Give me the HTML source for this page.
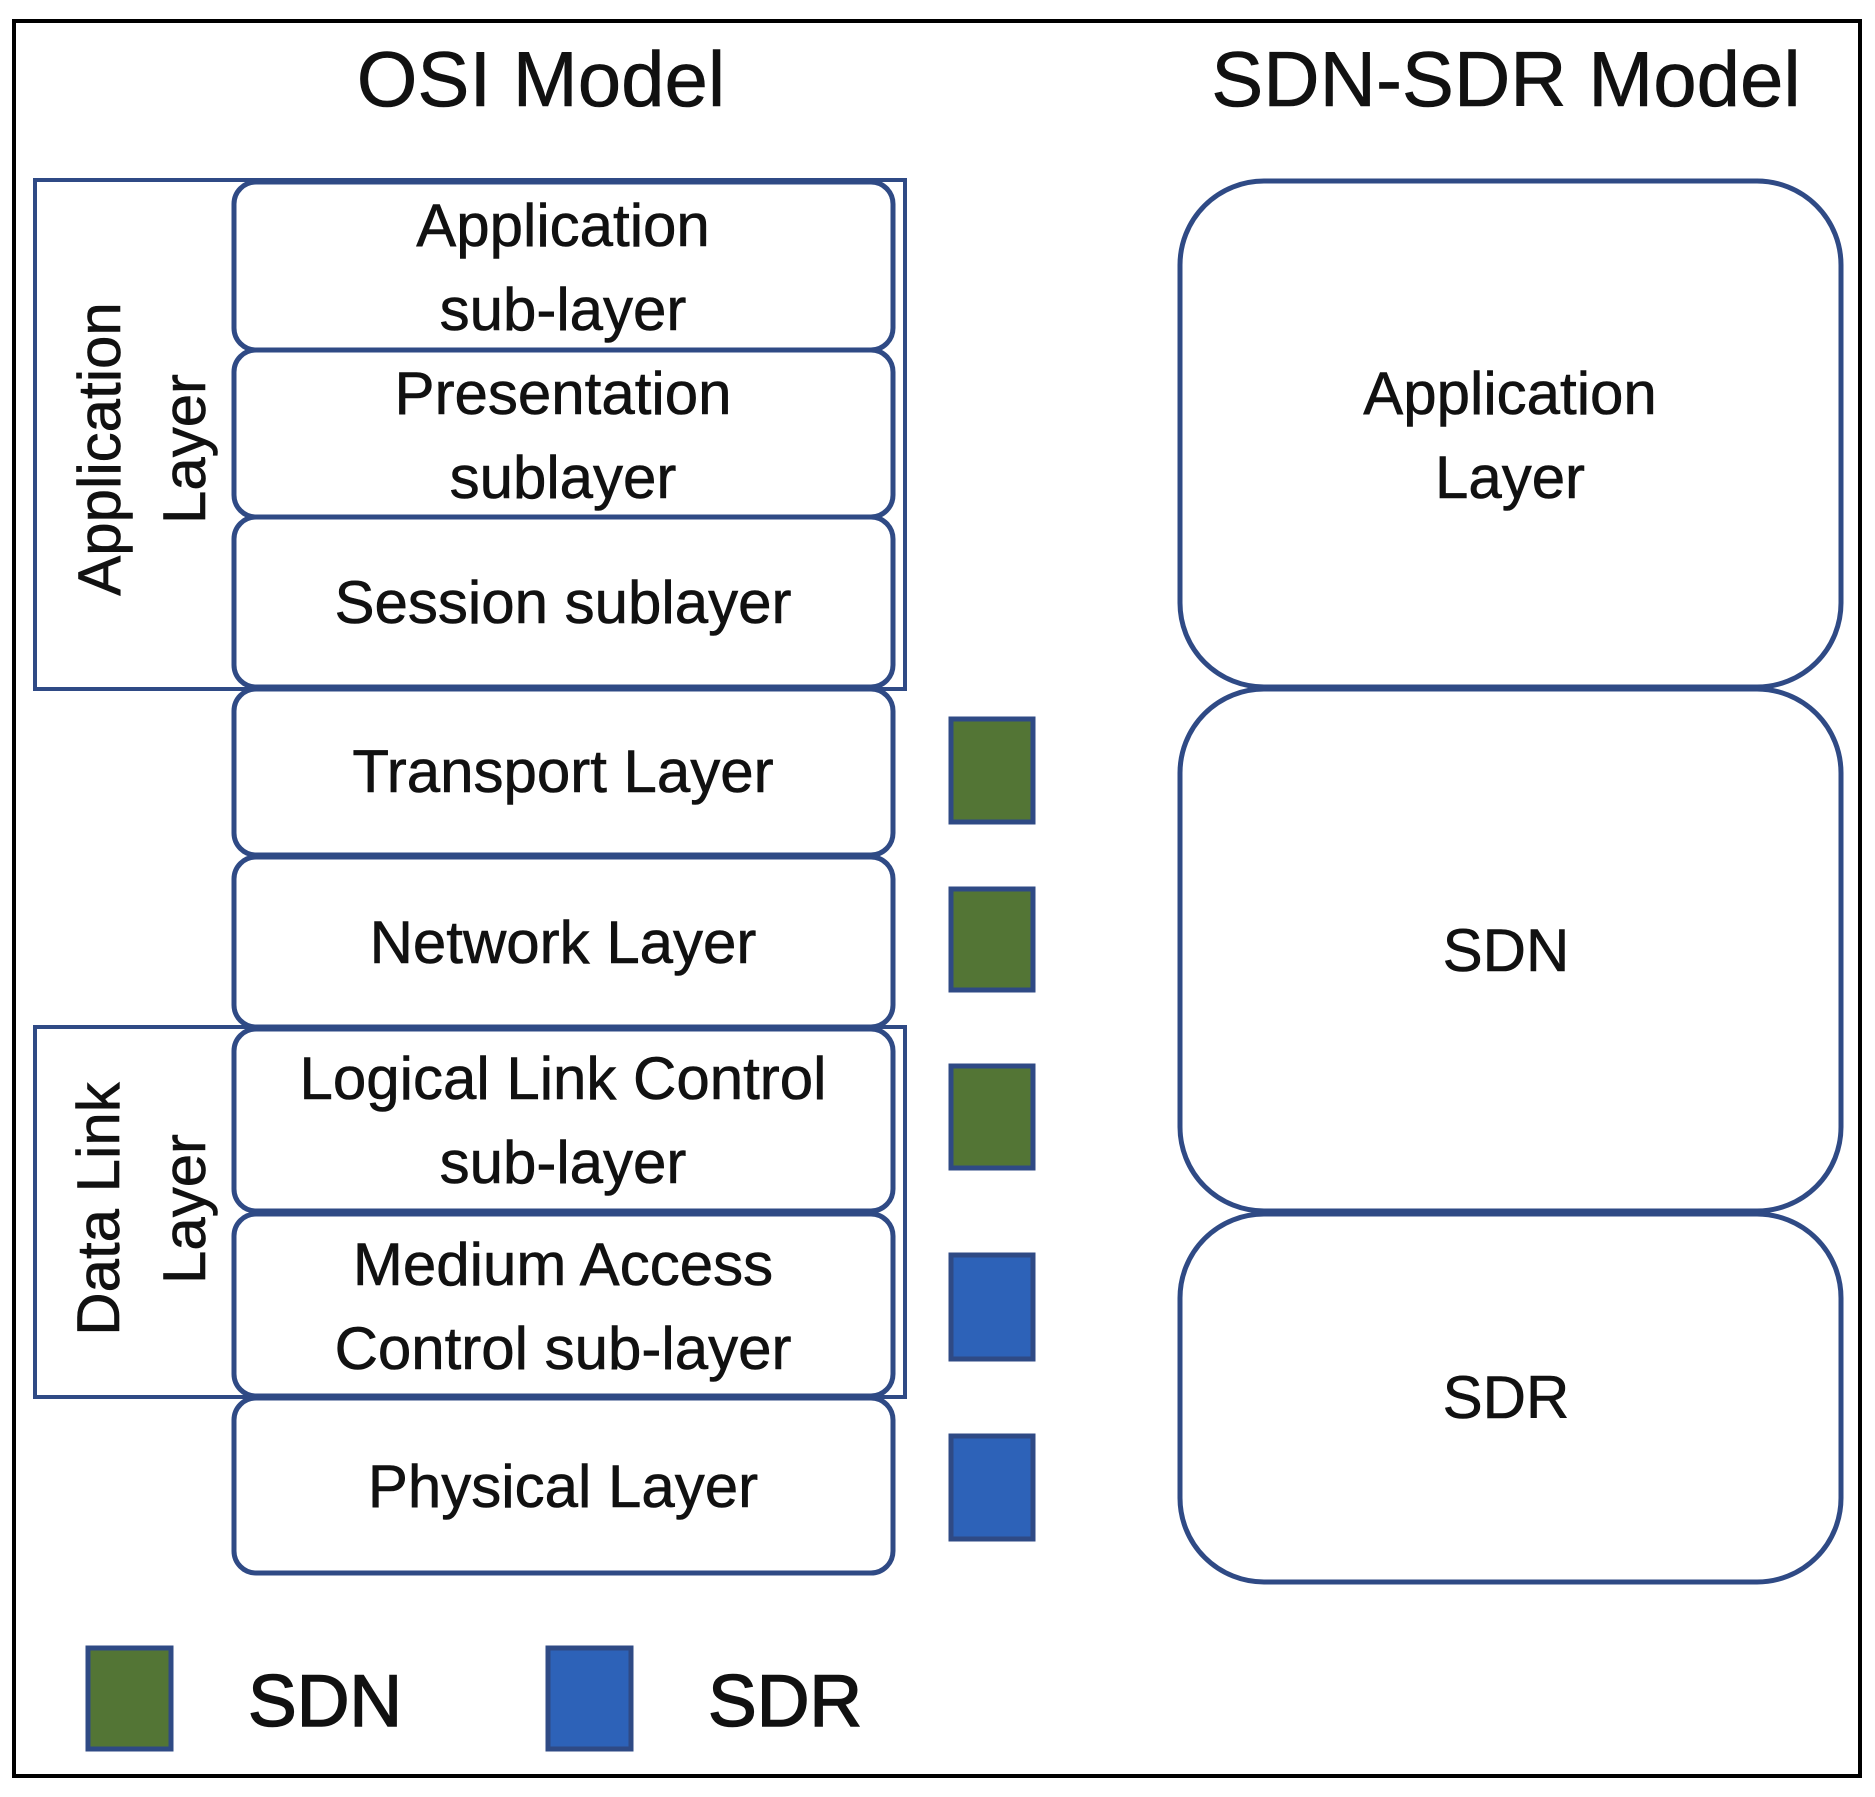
<!DOCTYPE html>
<html><head><meta charset="utf-8"><style>
html,body{margin:0;padding:0;background:#fff;}
svg{display:block;}
text{font-family:"Liberation Sans",sans-serif;fill:#111;stroke:#111;stroke-width:0.6;}
</style></head><body>
<svg width="1875" height="1797" viewBox="0 0 1875 1797" xmlns="http://www.w3.org/2000/svg">
<rect x="14" y="21" width="1846" height="1755" fill="#fff" stroke="#000" stroke-width="4"/>
<text x="541" y="106" font-size="78" text-anchor="middle">OSI Model</text>
<text x="1506" y="106" font-size="78" text-anchor="middle">SDN-SDR Model</text>

<g fill="none" stroke="#2f4a85" stroke-width="4">
<rect x="35" y="180" width="870" height="509"/>
<rect x="35" y="1027" width="870" height="370"/>
</g>
<g fill="#fff" stroke="#2f4a85" stroke-width="5">
<rect x="234" y="182" width="659" height="168" rx="22"/>
<rect x="234" y="350" width="659" height="167" rx="22"/>
<rect x="234" y="517" width="659" height="170" rx="22"/>
<rect x="234" y="689" width="659" height="166" rx="22"/>
<rect x="234" y="857" width="659" height="170" rx="22"/>
<rect x="234" y="1029" width="659" height="182" rx="22"/>
<rect x="234" y="1214" width="659" height="182" rx="22"/>
<rect x="234" y="1398" width="659" height="175" rx="22"/>
<rect x="1180" y="181" width="661" height="506" rx="84"/>
<rect x="1180" y="689" width="661" height="522" rx="84"/>
<rect x="1180" y="1214" width="661" height="368" rx="84"/>
</g>
<g font-size="60" text-anchor="middle">
<text x="563" y="246">Application</text>
<text x="563" y="330">sub-layer</text>
<text x="563" y="414">Presentation</text>
<text x="563" y="498">sublayer</text>
<text x="563" y="623">Session sublayer</text>
<text x="563" y="792">Transport Layer</text>
<text x="563" y="963">Network Layer</text>
<text x="563" y="1099">Logical Link Control</text>
<text x="563" y="1183">sub-layer</text>
<text x="563" y="1285">Medium Access</text>
<text x="563" y="1369">Control sub-layer</text>
<text x="563" y="1507">Physical Layer</text>
<text x="1510" y="414">Application</text>
<text x="1510" y="498">Layer</text>
<text x="1506" y="971">SDN</text>
<text x="1506" y="1418">SDR</text>
<text transform="translate(120,449) rotate(-90)">Application</text>
<text transform="translate(205,449) rotate(-90)">Layer</text>
<text transform="translate(119,1209) rotate(-90)">Data Link</text>
<text transform="translate(205,1209) rotate(-90)">Layer</text>
</g>
<g stroke="#2f4a85" stroke-width="5">
<rect x="951" y="719" width="82" height="103" fill="#537535"/>
<rect x="951" y="889" width="82" height="101" fill="#537535"/>
<rect x="951" y="1066" width="82" height="102" fill="#537535"/>
<rect x="951" y="1255" width="82" height="104" fill="#2d62b8"/>
<rect x="951" y="1436" width="82" height="103" fill="#2d62b8"/>
<rect x="88" y="1648" width="83" height="101" fill="#537535"/>
<rect x="548" y="1648" width="83" height="101" fill="#2d62b8"/>
</g>
<text x="248" y="1726" font-size="73" style="stroke-width:1.5">SDN</text>
<text x="708" y="1726" font-size="73" style="stroke-width:1.5">SDR</text>
</svg>
</body></html>
